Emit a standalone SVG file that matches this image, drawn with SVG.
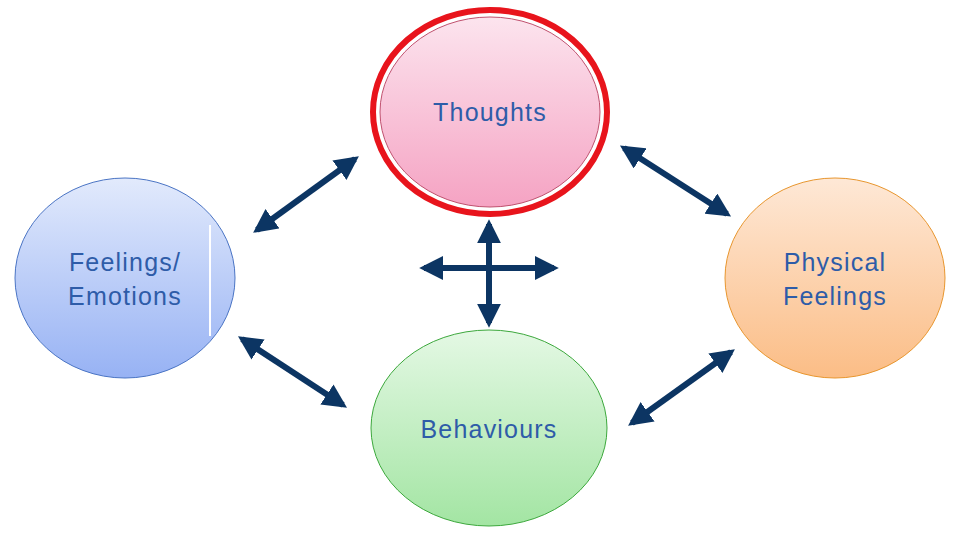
<svg xmlns="http://www.w3.org/2000/svg" width="960" height="540" viewBox="0 0 960 540">
<defs>
<linearGradient id="gp" x1="0" y1="0" x2="0" y2="1"><stop offset="0" stop-color="#fce4ee"/><stop offset="1" stop-color="#f5a3c3"/></linearGradient>
<linearGradient id="gb" x1="0" y1="0" x2="0" y2="1"><stop offset="0" stop-color="#e2eafc"/><stop offset="1" stop-color="#97b2f4"/></linearGradient>
<linearGradient id="go" x1="0" y1="0" x2="0" y2="1"><stop offset="0" stop-color="#fee8d6"/><stop offset="1" stop-color="#fbbd86"/></linearGradient>
<linearGradient id="gg" x1="0" y1="0" x2="0" y2="1"><stop offset="0" stop-color="#e4f8e4"/><stop offset="1" stop-color="#a3e5a3"/></linearGradient>
<marker id="ah" viewBox="0 0 10 10" refX="8" refY="5" markerWidth="4" markerHeight="4" orient="auto-start-reverse" markerUnits="strokeWidth"><path d="M0,0L10,5L0,10z" fill="#0c3563"/></marker>
</defs>
<style>
.t{font-family:"Liberation Sans",Arial,sans-serif;font-size:25px;letter-spacing:1.2px;fill:#2e5ca8;text-anchor:middle}
.c{stroke:#0c3563;stroke-width:6;fill:none;marker-start:url(#ah);marker-end:url(#ah)}
</style>
<rect width="960" height="540" fill="#fff"/>
<g id="thoughts">
<ellipse cx="490" cy="112" rx="117" ry="102" fill="#fff" stroke="#e8141c" stroke-width="6"/>
<ellipse cx="490" cy="112" rx="110" ry="95" fill="url(#gp)" stroke="#c0506e" stroke-width="1"/>
<text class="t" x="490" y="121">Thoughts</text>
</g>
<g id="feelings">
<ellipse cx="125" cy="278" rx="110" ry="100" fill="url(#gb)" stroke="#4a74c4" stroke-width="1"/>
<line x1="210" y1="225" x2="210" y2="336" stroke="#fff" stroke-width="2"/>
<text class="t" x="125" y="271">Feelings/</text>
<text class="t" x="125" y="305">Emotions</text>
</g>
<g id="physical">
<ellipse cx="835" cy="278" rx="110" ry="100" fill="url(#go)" stroke="#e8962e" stroke-width="1"/>
<text class="t" x="835" y="271">Physical</text>
<text class="t" x="835" y="305">Feelings</text>
</g>
<g id="behaviours">
<ellipse cx="489" cy="428" rx="118" ry="98" fill="url(#gg)" stroke="#3ca83c" stroke-width="1"/>
<text class="t" x="489" y="438">Behaviours</text>
</g>
<g id="connectors">
<line class="c" x1="257" y1="230" x2="355" y2="159"/>
<line class="c" x1="624" y1="148" x2="727" y2="214"/>
<line class="c" x1="242" y1="339" x2="343" y2="405"/>
<line class="c" x1="632" y1="423" x2="731" y2="352"/>
<line class="c" x1="489" y1="224" x2="489" y2="323"/>
<line class="c" x1="424" y1="268" x2="554" y2="268"/>
</g>
</svg>
